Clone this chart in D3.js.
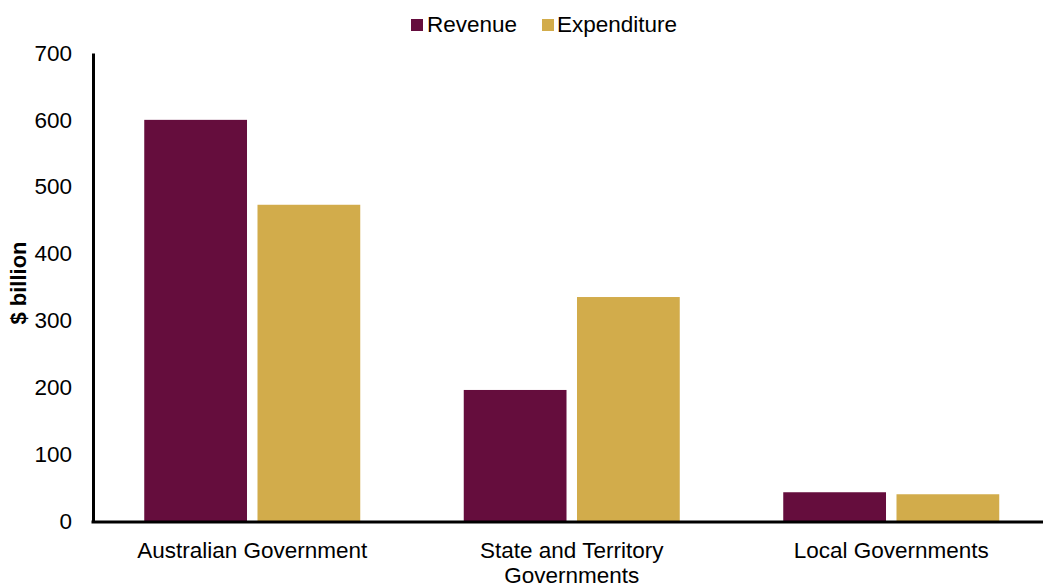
<!DOCTYPE html>
<html>
<head>
<meta charset="utf-8">
<script src="https://cdn.jsdelivr.net/npm/d3@7"></script>
<style>
  html, body { margin: 0; padding: 0; background: #fff; }
  svg { display: block; font-family: "Liberation Sans", Arial, sans-serif; }
</style>
</head>
<body>
<svg id="chart" width="1043" height="583"></svg>
<script>
const categories = ["Australian Government", "State and Territory Governments", "Local Governments"];
const categoryLines = [["Australian Government"], ["State and Territory", "Governments"], ["Local Governments"]];
const seriesNames = ["Revenue", "Expenditure"];
const revenue = [600, 196, 43];
const expenditure = [473, 335, 40];
const yTicks = [0, 100, 200, 300, 400, 500, 600, 700];
const colors = ["#650D3D", "#D2AC4B"];

const svg = d3.select("#chart");
const margin = { left: 93, top: 53, bottom: 521 };

const x0 = d3.scaleBand().domain(categories).range([92.5, 1051]).paddingInner(0).paddingOuter(0);
const y = d3.scaleLinear().domain([0, 700]).range([margin.bottom, margin.top]);

const groupWidth = 216;
const x1 = d3.scaleBand().domain(seriesNames).range([0, groupWidth]).paddingInner(10 / 108);

const data = categories.map((c, i) => ({ cat: c, values: [revenue[i], expenditure[i]] }));

// bars
const g = svg.append("g");
data.forEach(d => {
  const cx = x0(d.cat) + x0.bandwidth() / 2;
  const gx = cx - groupWidth / 2;
  seriesNames.forEach((s, j) => {
    g.append("rect")
      .attr("x", gx + x1(s))
      .attr("y", y(d.values[j]))
      .attr("width", x1.bandwidth())
      .attr("height", y(0) - y(d.values[j]))
      .attr("fill", colors[j]);
  });
});

// y axis
const yAxis = d3.axisLeft(y).tickValues(yTicks).tickSize(0).tickPadding(21).tickFormat(d3.format("d"));
const ya = svg.append("g").attr("transform", `translate(${margin.left},0)`).call(yAxis);
ya.select(".domain").attr("stroke", "#000").attr("stroke-width", 3);
ya.selectAll("text").attr("font-size", 22.5).attr("fill", "#000").attr("font-family", "Liberation Sans, Arial, sans-serif");

// x axis line
svg.append("line")
  .attr("x1", margin.left - 1.5).attr("x2", 1043)
  .attr("y1", y(0) + 1).attr("y2", y(0) + 1)
  .attr("stroke", "#000").attr("stroke-width", 3);

// category labels
categories.forEach((c, i) => {
  const cx = x0(c) + x0.bandwidth() / 2;
  const t = svg.append("text")
    .attr("x", cx).attr("y", 558)
    .attr("text-anchor", "middle")
    .attr("font-size", 22.5).attr("fill", "#000");
  categoryLines[i].forEach((line, k) => {
    t.append("tspan").attr("x", cx).attr("dy", k === 0 ? 0 : 25).text(line);
  });
});

// y label
svg.append("text")
  .attr("transform", "translate(26,283) rotate(-90)")
  .attr("text-anchor", "middle")
  .attr("font-size", 22).attr("font-weight", "bold").attr("fill", "#000")
  .text("$ billion");

// legend
const legendItems = [{ name: seriesNames[0], x: 411, tx: 427 }, { name: seriesNames[1], x: 542, tx: 557 }];
legendItems.forEach((it, j) => {
  svg.append("rect").attr("x", it.x).attr("y", 19).attr("width", 12).attr("height", 12).attr("fill", colors[j]);
  svg.append("text").attr("x", it.tx).attr("y", 31.5).attr("font-size", 22.5).attr("fill", "#000").text(it.name);
});
</script>
</body>
</html>
